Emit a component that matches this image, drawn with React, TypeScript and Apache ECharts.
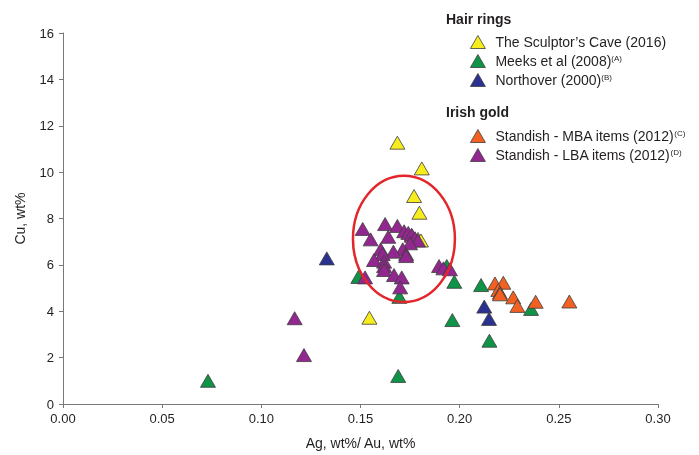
import React, { useEffect, useRef } from 'react';
import * as echarts from 'echarts';

const seriesNames = [
  'The Sculptor’s Cave (2016)',
  'Meeks et al (2008)',
  'Northover (2000)',
  'Standish - MBA items (2012)',
  'Standish - LBA items (2012)',
];
const superscripts = ['', '(A)', '(B)', '(C)', '(D)'];
const seriesColors = ['#f7ec1e', '#0f9447', '#2b3190', '#f26122', '#92278f'];
const groupHeaders = ['Hair rings', 'Irish gold'];

const sculptorCave = [
  [0.1686, 11.27], [0.1809, 10.16], [0.177, 8.97], [0.1797, 8.25],
  [0.176, 7.25], [0.179, 7.12], [0.1805, 7.05], [0.1545, 3.72],
];
const meeks = [
  [0.0731, 1.0], [0.169, 1.21], [0.1489, 5.48], [0.1696, 4.62], [0.1973, 5.27],
  [0.1963, 3.62], [0.2108, 5.13], [0.215, 2.73], [0.236, 4.1], [0.1935, 5.95],
];
const northover = [[0.133, 6.28], [0.2124, 4.2], [0.2148, 3.67]];
const standishMBA = [
  [0.2178, 5.2], [0.222, 5.23], [0.2195, 4.92], [0.2203, 4.8], [0.2203, 4.73],
  [0.227, 4.6], [0.2291, 4.23], [0.2383, 4.41], [0.2553, 4.42],
];
const standishLBA = [
  [0.1511, 7.55], [0.1624, 7.76], [0.1686, 7.68], [0.1551, 7.1], [0.164, 7.21],
  [0.172, 7.45], [0.1741, 7.38], [0.1758, 7.3], [0.1775, 7.15], [0.179, 7.05],
  [0.175, 6.93], [0.1602, 6.67], [0.1713, 6.67], [0.1666, 6.57], [0.1612, 6.47],
  [0.173, 6.47], [0.173, 6.38], [0.1568, 6.21], [0.1619, 6.14], [0.1619, 5.95],
  [0.1619, 5.78], [0.1669, 5.56], [0.1708, 5.46], [0.1523, 5.46], [0.17, 5.03],
  [0.1896, 5.95], [0.1918, 5.85], [0.1951, 5.81], [0.1168, 3.7], [0.1215, 2.11],
];
const allSeries = [sculptorCave, meeks, northover, standishMBA, standishLBA];

// highlighted cluster (data units): centre and radii
const ellipseCenter = [0.1719, 7.12];
const ellipseRadii = [0.0257, 2.72];

const FONT = '"Liberation Sans", Arial, sans-serif';
const TEXT = '#231f20';

export default function App() {
  const ref = useRef<HTMLDivElement>(null);
  useEffect(() => {
    const chart = echarts.init(ref.current!, null, { renderer: 'svg' });
    const rich = {
      n: { fontSize: 14, color: TEXT, fontFamily: FONT },
      s: { fontSize: 8, color: TEXT, fontFamily: FONT, verticalAlign: 'top' },
    };
    const formatter = (name: string) => {
      const i = seriesNames.indexOf(name);
      return superscripts[i] ? `{n|${name}}{s|${superscripts[i]}}` : `{n|${name}}`;
    };
    const legendBase = {
      orient: 'vertical',
      left: 465,
      itemWidth: 15,
      itemHeight: 13,
      itemGap: 5,
      icon: 'triangle',
      selectedMode: false,
      formatter,
      itemStyle: { borderWidth: 0.8, borderColor: '#3d3d3d' },
      textStyle: { fontSize: 14, color: TEXT, fontFamily: FONT, padding: [0, 0, 0, 5], rich },
    };
    chart.setOption({
      animation: false,
      grid: { left: 63, right: 41, top: 33, bottom: 51 },
      xAxis: {
        type: 'value', min: 0, max: 0.3, interval: 0.05,
        name: 'Ag, wt%/ Au, wt%', nameLocation: 'middle', nameGap: 32,
        nameTextStyle: { fontSize: 14, color: TEXT, fontFamily: FONT },
        axisLine: { lineStyle: { color: '#77787b', width: 1 } },
        axisTick: { show: true, length: 4, lineStyle: { color: '#77787b' } },
        axisLabel: { fontSize: 13, color: TEXT, fontFamily: FONT, margin: 8, formatter: (v: number) => v.toFixed(2) },
        splitLine: { show: false },
      },
      yAxis: {
        type: 'value', min: 0, max: 16, interval: 2,
        name: 'Cu, wt%', nameLocation: 'middle', nameGap: 36, nameRotate: 90,
        nameTextStyle: { fontSize: 14, color: TEXT, fontFamily: FONT },
        axisLine: { show: true, lineStyle: { color: '#77787b', width: 1 } },
        axisTick: { show: true, length: 4, lineStyle: { color: '#77787b' } },
        axisLabel: { fontSize: 13, color: TEXT, fontFamily: FONT, margin: 9 },
        splitLine: { show: false },
      },
      legend: [
        { ...legendBase, top: 30, data: seriesNames.slice(0, 3) },
        { ...legendBase, top: 124, data: seriesNames.slice(3) },
      ],
      series: allSeries.map((data, i) => ({
        type: 'scatter',
        name: seriesNames[i],
        data,
        symbol: 'triangle',
        symbolSize: [15, 13],
        itemStyle: { color: seriesColors[i], borderColor: '#3d3d3d', borderWidth: 0.8, opacity: 1 },
        emphasis: { disabled: true },
      })),
    });
    const c = chart.convertToPixel({ gridIndex: 0 }, ellipseCenter) as number[];
    const e = chart.convertToPixel({ gridIndex: 0 }, [
      ellipseCenter[0] + ellipseRadii[0],
      ellipseCenter[1] + ellipseRadii[1],
    ]) as number[];
    chart.setOption({
      graphic: [
        {
          type: 'ellipse', id: 'cluster', z: 100,
          shape: { cx: c[0], cy: c[1], rx: Math.abs(e[0] - c[0]), ry: Math.abs(c[1] - e[1]) },
          style: { fill: 'none', stroke: '#e3262b', lineWidth: 2.5 },
        },
        {
          type: 'text', id: 'h1', left: 446, top: 12,
          style: { text: groupHeaders[0], font: `bold 14px ${FONT}`, fill: TEXT },
        },
        {
          type: 'text', id: 'h2', left: 446, top: 105,
          style: { text: groupHeaders[1], font: `bold 14px ${FONT}`, fill: TEXT },
        },
      ],
    });
    return () => chart.dispose();
  }, []);
  return <div ref={ref} style={{ position: 'fixed', left: 0, top: 0, width: 699, height: 455 }} />;
}
